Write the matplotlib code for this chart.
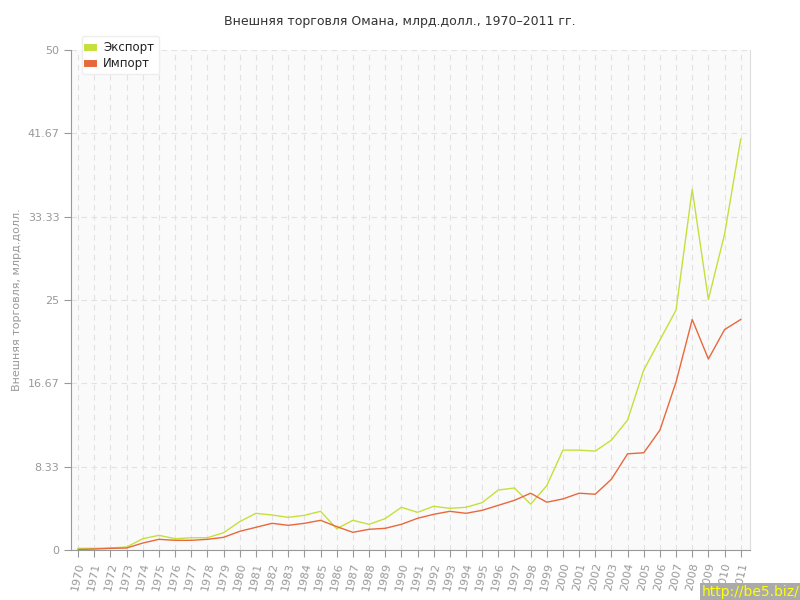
import matplotlib
matplotlib.use('Agg')
import matplotlib.pyplot as plt
import matplotlib.ticker as ticker

# --- DATA ---
years = list(range(1970, 2012))
export = [0.17, 0.17, 0.2, 0.3, 1.13, 1.47, 1.13, 1.23, 1.23, 1.73,
          2.84, 3.67, 3.5, 3.27, 3.47, 3.87, 2.13, 2.97, 2.57, 3.14,
          4.27, 3.77, 4.37, 4.17, 4.27, 4.74, 6.0, 6.2, 4.58, 6.44,
          9.99, 9.99, 9.89, 10.99, 13.0, 18.0, 21.0, 24.0, 36.07, 25.05,
          31.56, 41.08]
imports = [0.05, 0.1, 0.17, 0.2, 0.7, 1.07, 0.97, 0.97, 1.07, 1.27,
           1.87, 2.27, 2.67, 2.47, 2.67, 2.97, 2.34, 1.77, 2.07, 2.17,
           2.57, 3.17, 3.57, 3.87, 3.67, 3.97, 4.47, 4.97, 5.68, 4.78,
           5.11, 5.68, 5.58, 7.08, 9.62, 9.72, 11.99, 16.8, 23.05, 19.1,
           22.04, 23.05]
y_ticks = [0, 8.33, 16.67, 25, 33.33, 41.67, 50]
y_labels = ['0', '8.33', '16.67', '25', '33.33', '41.67', '50']

GREEN = '#c5e03c'
ORANGE = '#e8683c'
GRAY = '#999999'

fig = plt.figure(figsize=(8, 6), dpi=100)
ax = fig.add_axes([0.089, 0.0833, 0.849, 0.8334])
ax.set_facecolor('#fafafa')

ax.plot(years, export, color=GREEN, linewidth=1.0, label='Экспорт')
ax.plot(years, imports, color=ORANGE, linewidth=1.0, label='Импорт')

ax.set_xlim(1969.57, 2011.6)
ax.set_ylim(0, 50)

ax.set_xticks(years)
ax.set_xticklabels([str(y) for y in years], rotation=78, fontsize=8, color=GRAY)
ax.set_yticks(y_ticks)
ax.set_yticklabels(y_labels, fontsize=8, color=GRAY)

ax.grid(True, color='#e2e2e2', linestyle=(0, (5, 4)), linewidth=0.8)
ax.set_axisbelow(True)

for side in ['left', 'bottom']:
    ax.spines[side].set_color(GRAY)
ax.spines['top'].set_visible(False)
ax.spines['right'].set_color('#dddddd')
ax.tick_params(axis='both', colors=GRAY, length=5, width=0.8)

ax.set_ylabel('Внешняя торговля, млрд.долл.', fontsize=8, color=GRAY)
fig.suptitle('Внешняя торговля Омана, млрд.долл., 1970–2011 гг.', fontsize=9, color='#333333', y=0.975)

leg = ax.legend(loc='upper left', bbox_to_anchor=(0.016, 1.028), fontsize=8.5, frameon=True,
                fancybox=True, shadow=False, handlelength=0.5, handleheight=0.5,
                borderpad=0.4, labelspacing=0.25, handletextpad=0.9, borderaxespad=0.0)
leg.get_frame().set_edgecolor('#eeeeee')
leg.get_frame().set_facecolor('white')
leg.get_frame().set_alpha(1.0)
for h in leg.legend_handles:
    h.set_linewidth(5)
for t in leg.get_texts():
    t.set_color('#222222')

fig.text(0.9995, 0.001, 'http://be5.biz/', ha='right', va='bottom', fontsize=10,
         color='#ffff00', bbox=dict(facecolor='#aaaaaa', edgecolor='none', pad=1.5))

fig.savefig('out.png', dpi=100)
